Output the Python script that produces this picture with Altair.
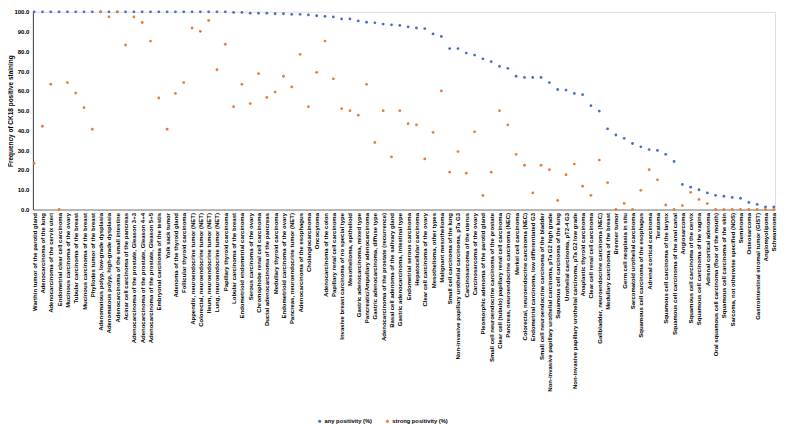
import altair as alt
import pandas as pd

categories = [
    "Warthin tumor of the parotid gland",
    "Adenocarcinoma of the lung",
    "Adenocarcinoma of the cervix uteri",
    "Endometrial clear cell carcinoma",
    "Mucinous carcinoma of the ovary",
    "Tubular carcinoma of the breast",
    "Mucinous carcinoma of the breast",
    "Phyllodes tumor of the breast",
    "Adenomatous polyp, low-grade dysplasia",
    "Adenomatous polyp, high-grade dysplasia",
    "Adenocarcinoma of the small intestine",
    "Acinar cell carcinoma of the pancreas",
    "Adenocarcinoma of the prostate, Gleason 3+3",
    "Adenocarcinoma of the prostate, Gleason 4+4",
    "Adenocarcinoma of the prostate, Gleason 5+5",
    "Embryonal carcinoma of the testis",
    "Yolk sack tumor",
    "Adenoma of the thyroid gland",
    "Follicular thyroid carcinoma",
    "Appendix, neuroendocrine tumor (NET)",
    "Colorectal, neuroendocrine tumor (NET)",
    "Ileum, neuroendocrine tumor (NET)",
    "Lung, neuroendocrine tumor (NET)",
    "Papillary thyroid carcinoma",
    "Lobular carcinoma of the breast",
    "Endometrioid endometrial carcinoma",
    "Serous carcinoma of the ovary",
    "Chromophobe renal cell carcinoma",
    "Ductal adenocarcinoma of the pancreas",
    "Medullary thyroid carcinoma",
    "Endometrioid carcinoma of the ovary",
    "Pancreas, neuroendocrine tumor (NET)",
    "Adenocarcinoma of the esophagus",
    "Cholangiocarcinoma",
    "Oncocytoma",
    "Adenocarcinoma of the colon",
    "Papillary renal cell carcinoma",
    "Invasive breast carcinoma of no special type",
    "Mesothelioma, epithelioid",
    "Gastric adenocarcinoma, mixed type",
    "Pancreatic/Ampullary adenocarcinoma",
    "Gastric adenocarcinoma, diffuse type",
    "Adenocarcinoma of the prostate (recurrence)",
    "Basal cell adenoma of the salivary gland",
    "Gastric adenocarcinoma, intestinal type",
    "Endometrial serous carcinoma",
    "Hepatocellular carcinoma",
    "Clear cell carcinoma of the ovary",
    "Mesothelioma, other types",
    "Malignant mesothelioma",
    "Small cell carcinoma of the lung",
    "Non-invasive papillary urothelial carcinoma, pTa G3",
    "Carcinosarcoma of the uterus",
    "Carcinosarcoma of the ovary",
    "Pleomorphic adenoma of the parotid gland",
    "Small cell neuroendocrine carcinoma of the prostate",
    "Clear cell (tubulo) papillary renal cell carcinoma",
    "Pancreas, neuroendocrine carcinoma (NEC)",
    "Merkel cell carcinoma",
    "Colorectal, neuroendocrine carcinoma (NEC)",
    "Endometrial carcinoma, low differentiated G3",
    "Small cell neuroendocrine carcinoma of the bladder",
    "Non-invasive papillary urothelial carcinoma, pTa G2 high grade",
    "Squamous cell carcinoma of the lung",
    "Urothelial carcinoma, pT2-4 G3",
    "Non-invasive papillary urothelial carcinoma, pTa G2 low grade",
    "Anaplastic thyroid carcinoma",
    "Clear cell renal cell carcinoma",
    "Gallbladder, neuroendocrine carcinoma (NEC)",
    "Medullary carcinoma of the breast",
    "Brenner tumor",
    "Germ cell neoplasia in situ",
    "Sarcomatoid urothelial carcinoma",
    "Squamous cell carcinoma of the esophagus",
    "Adrenal cortical carcinoma",
    "Teratoma",
    "Squamous cell carcinoma of the larynx",
    "Squamous cell carcinoma of the anal canal",
    "Angiosarcoma",
    "Squamous cell carcinoma of the cervix",
    "Squamous cell carcinoma of the vagina",
    "Adrenal cortical adenoma",
    "Oral squamous cell carcinoma (floor of the mouth)",
    "Squamous cell carcinoma of the skin",
    "Sarcoma, not otherwise specified (NOS)",
    "Seminoma",
    "Osteosarcoma",
    "Gastrointestinal stromal tumor (GIST)",
    "Angiomyolipoma",
    "Schwannoma",
]

any_positivity = [
    100, 100, 100, 100, 100, 100, 100, 100, 100, 100,
    100, 100, 100, 100, 100, 100, 100, 100, 100, 100,
    100, 100, 100, 100, 99.7, 99.7, 99.3, 99.3, 99.3, 99.0,
    99.0, 98.7, 98.7, 98.4, 98.0, 97.7, 97.4, 96.4, 96.4, 95.4,
    94.7, 94.4, 93.8, 93.4, 93.1, 92.4, 91.8, 91.5, 88.8, 87.5,
    81.4, 81.4, 79.1, 78.1, 76.2, 74.8, 72.4, 71.4, 67.4, 66.8,
    66.8, 66.8, 64.2, 60.7, 60.4, 58.7, 58.1, 52.5, 49.8, 40.8,
    37.7, 36.0, 33.4, 31.7, 30.3, 29.9, 27.9, 24.3, 12.7, 11.3,
    10.0, 8.4, 7.2, 6.7, 6.1, 5.7, 3.6, 2.6, 1.3, 1.3,
]

strong_positivity = [
    23.3, 42.1, 63.4, 0.0, 64.2, 58.9, 51.5, 40.6, 100, 97.4,
    100, 83.2, 97.4, 94.6, 85.2, 56.4, 40.6, 58.7, 64.2, 91.8,
    90.1, 95.6, 70.7, 83.6, 52.0, 63.3, 53.6, 68.7, 56.7, 59.4,
    67.4, 62.0, 78.5, 52.0, 69.4, 85.2, 66.1, 51.0, 50.0, 47.7,
    63.3, 33.9, 50.0, 26.6, 50.0, 43.4, 42.8, 25.6, 39.0, 60.0,
    18.9, 29.3, 18.4, 39.3, 7.1, 18.9, 50.0, 42.8, 27.9, 22.4,
    8.4, 22.4, 20.1, 4.6, 17.6, 23.0, 11.8, 7.2, 25.0, 13.6,
    0.0, 3.1, 0.0, 9.7, 20.1, 15.0, 2.3, 0.0, 2.0, 8.7,
    5.1, 3.0, 0.0, 0.0, 0.0, 0.0, 0.0, 0.0, 0.0, 0.0,
]

series_names = ["any positivity (%)", "strong positivity (%)"]
series_colors = ["#4472C4", "#ED7D31"]
y_ticks = [0, 10, 20, 30, 40, 50, 60, 70, 80, 90, 100]

rows = []
for c, v in zip(categories, any_positivity):
    rows.append({"cat": c, "val": v, "series": series_names[0], "ord": 0})
for c, v in zip(categories, strong_positivity):
    rows.append({"cat": c, "val": v, "series": series_names[1], "ord": 1})
df = pd.DataFrame(rows)

FONT = "Liberation Sans"

chart = alt.Chart(df).mark_circle(size=8, opacity=1).encode(
    x=alt.X(
        "cat:N",
        sort=categories,
        scale=alt.Scale(type="point", padding=0.15),
        axis=alt.Axis(
            title=None,
            labelAngle=-90,
            labelFontSize=6,
            labelFont=FONT,
            labelFontWeight="bold",
            labelColor="#000000",
            labelLimit=400,
            labelOverlap=False,
            labelPadding=3,
            ticks=False,
            domainColor="#808080",
            domainWidth=1,
        ),
    ),
    y=alt.Y(
        "val:Q",
        scale=alt.Scale(domain=[0, 100], nice=False),
        axis=alt.Axis(
            title="Frequency of CK18 positive staining",
            titleFont=FONT,
            titleFontSize=6.5,
            titleFontWeight="bold",
            titleColor="#000000",
            titlePadding=0,
            values=y_ticks,
            format=".1f",
            labelFont=FONT,
            labelFontSize=6,
            labelFontWeight="bold",
            labelColor="#000000",
            labelPadding=4,
            ticks=False,
            grid=False,
            domainColor="#404040",
            domainWidth=1,
        ),
    ),
    color=alt.Color(
        "series:N",
        scale=alt.Scale(domain=series_names, range=series_colors),
        legend=alt.Legend(
            title=None,
            orient="none",
            direction="horizontal",
            legendX=285,
            legendY=408,
            labelFont=FONT,
            labelFontSize=5.8,
            labelFontWeight="bold",
            labelColor="#000000",
            symbolSize=10,
            symbolType="circle",
            columnPadding=12,
            labelOffset=2,
        ),
    ),
    order=alt.Order("ord:Q"),
).properties(
    width=745,
    height=198.5,
    autosize=alt.AutoSizeParams(type="none"),
    padding={"left": 25, "top": 3, "right": 4, "bottom": 214},
).configure_view(stroke=None).configure(background="white")

chart.save("out.html", embed_options={"renderer": "svg", "actions": False})
